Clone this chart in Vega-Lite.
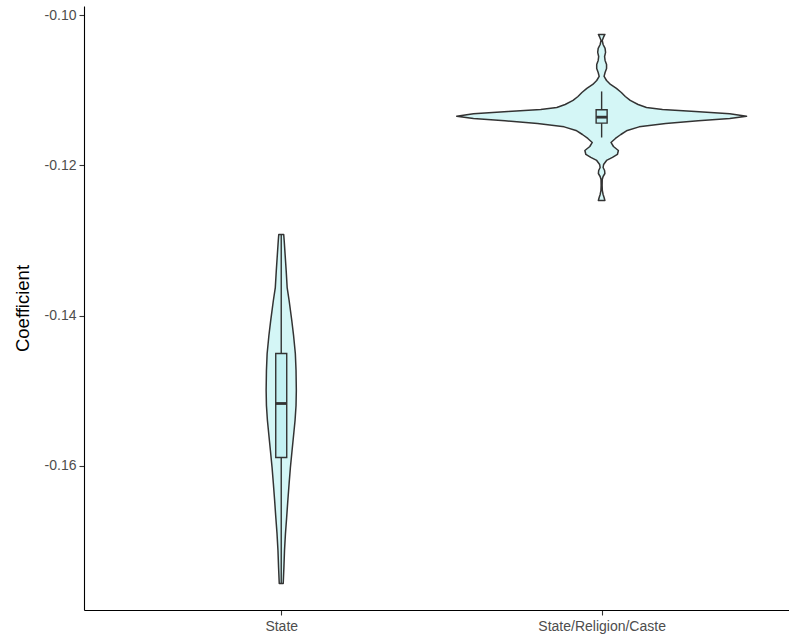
{
  "$schema": "https://vega.github.io/schema/vega-lite/v6.json",
  "width": 705,
  "height": 604,
  "autosize": "none",
  "padding": {"left": 84, "top": 6, "right": 0, "bottom": 31},
  "background": "white",
  "config": {
    "view": {"stroke": null},
    "font": "Liberation Sans",
    "axis": {
      "grid": false,
      "domainColor": "#000000",
      "domainWidth": 1.1,
      "tickColor": "#333333",
      "tickWidth": 1.1,
      "tickSize": 5,
      "labelColor": "#4D4D4D",
      "labelFontSize": 14,
      "labelFont": "Liberation Sans",
      "titleFont": "Liberation Sans",
      "titleColor": "#000000",
      "titleFontWeight": "normal",
      "titleFontSize": 18.5
    }
  },
  "datasets": {
    "violin": [
      {"group": "State", "v": -0.12920, "w": 0.0077},
      {"group": "State", "v": -0.13000, "w": 0.0092},
      {"group": "State", "v": -0.13200, "w": 0.0123},
      {"group": "State", "v": -0.13400, "w": 0.0154},
      {"group": "State", "v": -0.13627, "w": 0.0185},
      {"group": "State", "v": -0.13800, "w": 0.0246},
      {"group": "State", "v": -0.14067, "w": 0.0329},
      {"group": "State", "v": -0.14267, "w": 0.0385},
      {"group": "State", "v": -0.14507, "w": 0.0440},
      {"group": "State", "v": -0.14733, "w": 0.0462},
      {"group": "State", "v": -0.15000, "w": 0.0471},
      {"group": "State", "v": -0.15200, "w": 0.0462},
      {"group": "State", "v": -0.15400, "w": 0.0431},
      {"group": "State", "v": -0.15573, "w": 0.0391},
      {"group": "State", "v": -0.15800, "w": 0.0338},
      {"group": "State", "v": -0.16027, "w": 0.0286},
      {"group": "State", "v": -0.16240, "w": 0.0246},
      {"group": "State", "v": -0.16467, "w": 0.0206},
      {"group": "State", "v": -0.16693, "w": 0.0169},
      {"group": "State", "v": -0.16907, "w": 0.0132},
      {"group": "State", "v": -0.17133, "w": 0.0102},
      {"group": "State", "v": -0.17360, "w": 0.0083},
      {"group": "State", "v": -0.17573, "w": 0.0062},
      {"group": "State/Religion/Caste", "v": -0.10253, "w": 0.01015},
      {"group": "State/Religion/Caste", "v": -0.10293, "w": 0.00554},
      {"group": "State/Religion/Caste", "v": -0.10333, "w": 0.00185},
      {"group": "State/Religion/Caste", "v": -0.10387, "w": 0.00462},
      {"group": "State/Religion/Caste", "v": -0.10440, "w": 0.01077},
      {"group": "State/Religion/Caste", "v": -0.10493, "w": 0.01231},
      {"group": "State/Religion/Caste", "v": -0.10547, "w": 0.00923},
      {"group": "State/Religion/Caste", "v": -0.10600, "w": 0.01077},
      {"group": "State/Religion/Caste", "v": -0.10653, "w": 0.01538},
      {"group": "State/Religion/Caste", "v": -0.10707, "w": 0.01538},
      {"group": "State/Religion/Caste", "v": -0.10760, "w": 0.01077},
      {"group": "State/Religion/Caste", "v": -0.10813, "w": 0.00769},
      {"group": "State/Religion/Caste", "v": -0.10867, "w": 0.01538},
      {"group": "State/Religion/Caste", "v": -0.10920, "w": 0.02769},
      {"group": "State/Religion/Caste", "v": -0.10973, "w": 0.04615},
      {"group": "State/Religion/Caste", "v": -0.11027, "w": 0.06154},
      {"group": "State/Religion/Caste", "v": -0.11080, "w": 0.07385},
      {"group": "State/Religion/Caste", "v": -0.11133, "w": 0.08923},
      {"group": "State/Religion/Caste", "v": -0.11187, "w": 0.11385},
      {"group": "State/Religion/Caste", "v": -0.11227, "w": 0.14},
      {"group": "State/Religion/Caste", "v": -0.11253, "w": 0.19},
      {"group": "State/Religion/Caste", "v": -0.11280, "w": 0.29231},
      {"group": "State/Religion/Caste", "v": -0.11311, "w": 0.4},
      {"group": "State/Religion/Caste", "v": -0.11343, "w": 0.45231},
      {"group": "State/Religion/Caste", "v": -0.11375, "w": 0.4},
      {"group": "State/Religion/Caste", "v": -0.11405, "w": 0.30154},
      {"group": "State/Religion/Caste", "v": -0.11441, "w": 0.2},
      {"group": "State/Religion/Caste", "v": -0.11485, "w": 0.11692},
      {"group": "State/Religion/Caste", "v": -0.11533, "w": 0.08},
      {"group": "State/Religion/Caste", "v": -0.11587, "w": 0.06},
      {"group": "State/Religion/Caste", "v": -0.11640, "w": 0.04308},
      {"group": "State/Religion/Caste", "v": -0.11693, "w": 0.02923},
      {"group": "State/Religion/Caste", "v": -0.11747, "w": 0.03692},
      {"group": "State/Religion/Caste", "v": -0.11800, "w": 0.05231},
      {"group": "State/Religion/Caste", "v": -0.11853, "w": 0.04923},
      {"group": "State/Religion/Caste", "v": -0.11893, "w": 0.03385},
      {"group": "State/Religion/Caste", "v": -0.11933, "w": 0.01538},
      {"group": "State/Religion/Caste", "v": -0.11987, "w": 0.00615},
      {"group": "State/Religion/Caste", "v": -0.12027, "w": 0.00462},
      {"group": "State/Religion/Caste", "v": -0.12067, "w": 0.00923},
      {"group": "State/Religion/Caste", "v": -0.12107, "w": 0.01015},
      {"group": "State/Religion/Caste", "v": -0.12147, "w": 0.00462},
      {"group": "State/Religion/Caste", "v": -0.12187, "w": 0.00185},
      {"group": "State/Religion/Caste", "v": -0.12267, "w": 0.00154},
      {"group": "State/Religion/Caste", "v": -0.12333, "w": 0.00215},
      {"group": "State/Religion/Caste", "v": -0.12387, "w": 0.00462},
      {"group": "State/Religion/Caste", "v": -0.12427, "w": 0.00769},
      {"group": "State/Religion/Caste", "v": -0.12467, "w": 0.01015}
    ],
    "box": [
      {"group": "State", "lower": -0.17573, "q1": -0.15893, "median": -0.15173, "q3": -0.14507, "upper": -0.12920},
      {"group": "State/Religion/Caste", "lower": -0.11627, "q1": -0.11436, "median": -0.11356, "q3": -0.11257, "upper": -0.11013}
    ]
  },
  "layer": [
    {
      "data": {"name": "violin"},
      "transform": [
        {"calculate": "datum.group === 'State' ? 1 : 2", "as": "idx"},
        {"calculate": "datum.idx - datum.w", "as": "lo"},
        {"calculate": "datum.idx + datum.w", "as": "hi"}
      ],
      "mark": {"type": "area", "orient": "horizontal", "fill": "#D4F6F6", "stroke": "#333333", "strokeWidth": 1.5, "strokeJoin": "round"},
      "encoding": {
        "y": {
          "field": "v",
          "type": "quantitative",
          "scale": {"domain": [-0.17926, -0.09874], "nice": false, "zero": false},
          "axis": {"values": [-0.16, -0.14, -0.12, -0.10], "labelExpr": "replace(format(datum.value, '.2f'), '\u2212', '-')", "title": "Coefficient", "titlePadding": 12, "labelPadding": 3}
        },
        "x": {
          "field": "lo",
          "type": "quantitative",
          "scale": {"domain": [0.4, 2.5692], "nice": false, "zero": false},
          "axis": {"values": [1, 2], "labelExpr": "datum.value == 1 ? 'State' : 'State/Religion/Caste'", "title": null, "labelPadding": 4}
        },
        "x2": {"field": "hi"},
        "detail": {"field": "group", "type": "nominal"}
      }
    },
    {
      "data": {"name": "box"},
      "transform": [{"calculate": "datum.group === 'State' ? 1 : 2", "as": "idx"}],
      "mark": {"type": "rule", "color": "#333333", "strokeWidth": 1.4},
      "encoding": {
        "x": {"field": "idx", "type": "quantitative"},
        "y": {"field": "lower", "type": "quantitative"},
        "y2": {"field": "upper"}
      }
    },
    {
      "data": {"name": "box"},
      "transform": [{"calculate": "datum.group === 'State' ? 1 : 2", "as": "idx"}],
      "mark": {"type": "bar", "size": 11, "fill": "#C3F1F3", "stroke": "#333333", "strokeWidth": 1.4},
      "encoding": {
        "x": {"field": "idx", "type": "quantitative"},
        "y": {"field": "q1", "type": "quantitative"},
        "y2": {"field": "q3"}
      }
    },
    {
      "data": {"name": "box"},
      "transform": [{"calculate": "datum.group === 'State' ? 1 : 2", "as": "idx"}],
      "mark": {"type": "tick", "orient": "horizontal", "size": 11, "thickness": 2.8, "color": "#333333", "opacity": 1},
      "encoding": {
        "x": {"field": "idx", "type": "quantitative"},
        "y": {"field": "median", "type": "quantitative"}
      }
    }
  ]
}
